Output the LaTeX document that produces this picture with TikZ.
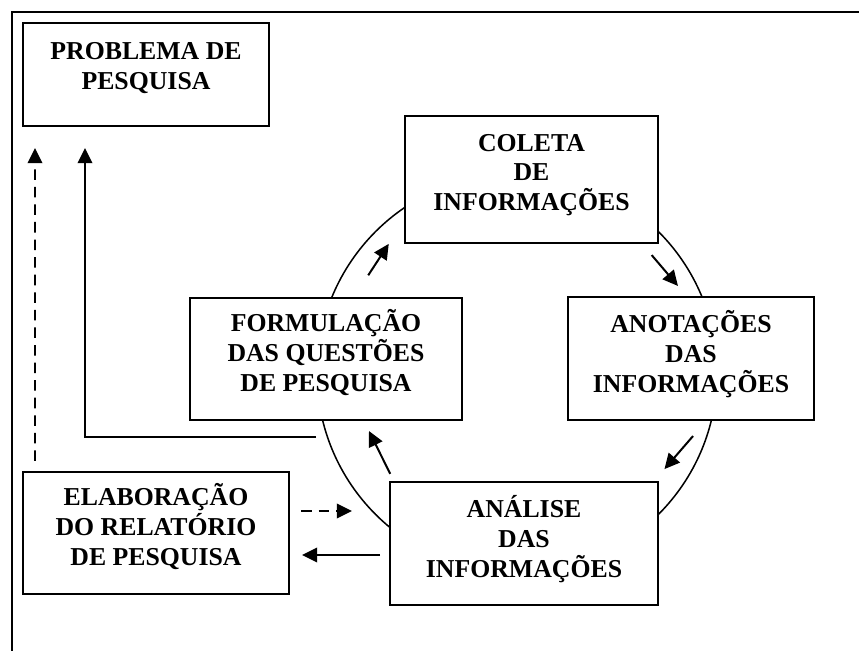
\documentclass[tikz,border=0pt]{standalone}
\usepackage{fontspec}
\setmainfont{Liberation Serif}
\usetikzlibrary{arrows.meta}
\begin{document}
\begin{tikzpicture}[x=0.03cm,y=0.03cm,
  etapa/.style={draw,line width=1.7pt,fill=white,align=center,
    font=\fontsize{22pt}{25.6pt}\selectfont\bfseries,text depth=12pt},
  seta/.style={line width=1.7pt,-{Triangle[length=13pt,width=12.5pt]}},
  tracejada/.style={seta,dash pattern=on 9pt off 6pt}]
\useasboundingbox (0,0) rectangle (859,651);
% moldura (so topo e lado esquerdo)
\draw[line width=1.7pt] (859,639) -- (12,639) -- (12,0);
% ciclo da pesquisa
\coordinate (ciclo) at (517,278);
\draw[line width=1.3pt] (ciclo) circle (200);
\node[etapa,minimum width=7.38cm,minimum height=3.09cm,text depth=15pt] (problema) at (146,576.5) {PROBLEMA DE\\ PESQUISA};
\node[etapa,minimum width=7.59cm,minimum height=3.81cm] (coleta) at (531.5,471.5) {COLETA\\ DE\\ INFORMAÇÕES};
\node[etapa,minimum width=8.16cm,minimum height=3.66cm,text depth=14pt] (formulacao) at (326,292) {FORMULAÇÃO\\ DAS QUESTÕES\\ DE PESQUISA};
\node[etapa,minimum width=7.38cm,minimum height=3.69cm] (anotacoes) at (691,292.5) {ANOTAÇÕES\\ DAS\\ INFORMAÇÕES};
\node[etapa,minimum width=8.04cm,minimum height=3.69cm] (analise) at (524,107.5) {ANÁLISE\\ DAS\\ INFORMAÇÕES};
\node[etapa,minimum width=7.98cm,minimum height=3.66cm,text depth=14pt] (elaboracao) at (156,118) {ELABORAÇÃO\\ DO RELATÓRIO\\ DE PESQUISA};
% setas curtas ao longo do ciclo
\foreach \a/\ra/\b/\rb in {146.7/178/134.8/182, 41.2/179/28.4/183, -19.7/187/-33.1/176, 218.5/162/201.4/159}
  \draw[seta] ([shift={(\a:\ra)}]ciclo) -- ([shift={(\b:\rb)}]ciclo);
% retorno ao problema
\draw[seta] ([shift={(-10,-16)}]formulacao.south) -| ([shift={(63,-21)}]problema.south west);
\draw[tracejada] ([shift={(13,10)}]elaboracao.north west) -- ([shift={(13,-21)}]problema.south west);
% relatorio
\draw[tracejada] ([shift={(11,22)}]elaboracao.east) -- ([shift={(62,22)}]elaboracao.east);
\draw[seta] ([shift={(-9,-11.5)}]analise.west) -- ([shift={(12,-22)}]elaboracao.east);
\end{tikzpicture}
\end{document}
